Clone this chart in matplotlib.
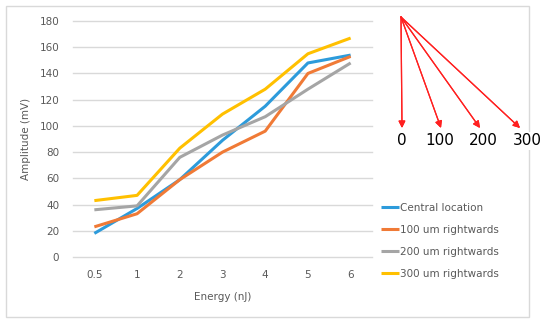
import matplotlib.pyplot as plt
from matplotlib.patches import Rectangle

# ---------- data ----------
energy_labels = ['0.5', '1', '2', '3', '4', '5', '6']
central = [18, 37, 59, 89, 115, 148, 154]
right_100 = [23, 33, 59, 80, 96, 140, 153]
right_200 = [36, 39, 76, 93, 107, 128, 148]
right_300 = [43, 47, 83, 109, 128, 155, 167]
series_names = ['Central location', '100 um rightwards',
                '200 um rightwards', '300 um rightwards']
offset_labels = ['0', '100', '200', '300']
y_ticks = [0, 20, 40, 60, 80, 100, 120, 140, 160, 180]

colors = ['#2D9BDB', '#F07A36', '#A5A5A5', '#FFC000']
tick_color = '#595959'
grid_color = '#D9D9D9'

fig = plt.figure(figsize=(5.5, 3.24), dpi=100)
fig.patch.set_facecolor('white')

# chart border
fig.patches.append(Rectangle((6 / 550, 1 - 317 / 324), 523 / 550, 311 / 324,
                             transform=fig.transFigure, fill=False,
                             edgecolor=grid_color, linewidth=1.0))

ax = fig.add_axes([73 / 550, 1 - 257 / 324, 299 / 550, 236 / 324])
x = list(range(len(energy_labels)))
for vals, name, c in zip([central, right_100, right_200, right_300],
                         series_names, colors):
    ax.plot(x, vals, color=c, linewidth=2.2, label=name, solid_capstyle='butt')

ax.set_xlim(-0.5, len(energy_labels) - 0.5)
ax.set_ylim(0, 180)
ax.set_yticks(y_ticks)
ax.set_xticks(x)
ax.set_xticklabels(energy_labels)
ax.yaxis.grid(True, color=grid_color, linewidth=1.0)
for gl in ax.get_ygridlines():
    gl.set_clip_on(False)
ax.set_axisbelow(True)
for s in ax.spines.values():
    s.set_visible(False)
ax.tick_params(length=0, labelsize=7.5, colors=tick_color, pad=10)
ax.tick_params(axis='x', pad=9)
ax.set_xlabel('Energy (nJ)', fontsize=7.5, color=tick_color, labelpad=9)
ax.set_ylabel('Amplitude (mV)', fontsize=7.5, color=tick_color, labelpad=6)

fig.legend(loc='upper left', bbox_to_anchor=(381 / 550, 121 / 324),
           frameon=False, fontsize=7.5, handlelength=1.7, handletextpad=0.15,
           labelspacing=1.15, borderpad=0, borderaxespad=0,
           labelcolor=tick_color)

# arrows from the source point to each offset
origin = (401, 307)
tips_x = [402, 441, 480, 520]
label_x = [402, 440, 483, 527]
for tx, lx, lab in zip(tips_x, label_x, offset_labels):
    fig.add_artist(plt.annotate('', xy=(tx, 196), xytext=origin,
                                xycoords='figure pixels',
                                textcoords='figure pixels',
                                arrowprops=dict(arrowstyle='-|>', color='#FF2020',
                                                lw=0.9, mutation_scale=10,
                                                shrinkA=0, shrinkB=0)))
    fig.text(lx / 550, 1 - 141 / 324, lab, fontsize=11, color='black',
             ha='center', va='center',
             bbox=dict(facecolor='white', edgecolor='none', pad=1))

fig.savefig('out.png', dpi=100)
